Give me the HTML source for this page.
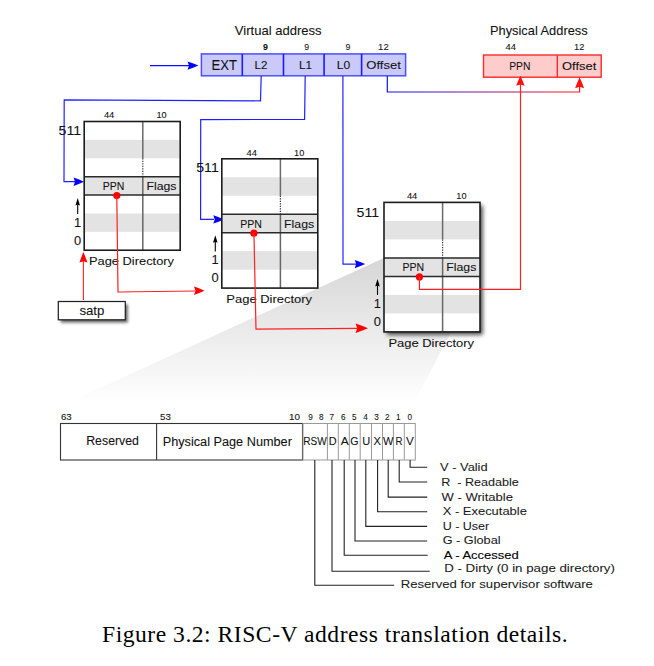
<!DOCTYPE html><html><head><meta charset="utf-8"><style>html,body{margin:0;padding:0;background:#fff;width:654px;height:666px;overflow:hidden}svg{display:block}</style></head><body>
<svg width="654" height="666" viewBox="0 0 654 666">
<defs><filter id="sh" x="-30%" y="-30%" width="160%" height="160%"><feGaussianBlur stdDeviation="2.3"/></filter><filter id="sh2" x="-30%" y="-60%" width="160%" height="220%"><feGaussianBlur stdDeviation="1.8"/></filter><linearGradient id="wedge" x1="0" y1="258" x2="0" y2="403" gradientUnits="userSpaceOnUse"><stop offset="0" stop-color="#d6d6d6"/><stop offset="1" stop-color="#ffffff"/></linearGradient><linearGradient id="ofs" x1="387" y1="0" x2="580" y2="0" gradientUnits="userSpaceOnUse"><stop offset="0" stop-color="#1010ff"/><stop offset="1" stop-color="#ff1a1a"/></linearGradient></defs>
<rect width="654" height="666" fill="#fff"/>
<path d="M384,258 L480,276.5 L414,403 L67,403 Z" fill="url(#wedge)"/>
<text x="234.8" y="34.8" font-size="12.2" text-anchor="start" font-weight="normal" fill="#111" font-family='"Liberation Sans", sans-serif' textLength="86.8" lengthAdjust="spacingAndGlyphs"  stroke="#111" stroke-width="0.08">Virtual address</text>
<text x="490.0" y="35.0" font-size="12.2" text-anchor="start" font-weight="normal" fill="#111" font-family='"Liberation Sans", sans-serif' textLength="97.6" lengthAdjust="spacingAndGlyphs"  stroke="#111" stroke-width="0.08">Physical Address</text>
<rect x="201.4" y="53.9" width="204.2" height="21.9" fill="#c9c9fa" stroke="#4d4dff" stroke-width="1.5"/>
<line x1="242.3" y1="53.9" x2="242.3" y2="75.8" stroke="#1a1aff" stroke-width="1.6"/>
<line x1="283.5" y1="53.9" x2="283.5" y2="75.8" stroke="#1a1aff" stroke-width="1.6"/>
<line x1="324.1" y1="53.9" x2="324.1" y2="75.8" stroke="#1a1aff" stroke-width="1.6"/>
<line x1="361.6" y1="53.9" x2="361.6" y2="75.8" stroke="#1a1aff" stroke-width="1.6"/>
<text x="211.6" y="69.7" font-size="14.2" text-anchor="start" font-weight="normal" fill="#111" font-family='"Liberation Sans", sans-serif' textLength="25.5" lengthAdjust="spacingAndGlyphs"  stroke="#111" stroke-width="0.08">EXT</text>
<text x="254.6" y="69.0" font-size="11.2" text-anchor="start" font-weight="normal" fill="#111" font-family='"Liberation Sans", sans-serif' textLength="12.8" lengthAdjust="spacingAndGlyphs"  stroke="#111" stroke-width="0.08">L2</text>
<text x="299.1" y="69.2" font-size="11.2" text-anchor="start" font-weight="normal" fill="#111" font-family='"Liberation Sans", sans-serif' textLength="13.0" lengthAdjust="spacingAndGlyphs"  stroke="#111" stroke-width="0.08">L1</text>
<text x="336.8" y="69.2" font-size="11.2" text-anchor="start" font-weight="normal" fill="#111" font-family='"Liberation Sans", sans-serif' textLength="13.4" lengthAdjust="spacingAndGlyphs"  stroke="#111" stroke-width="0.08">L0</text>
<text x="366.3" y="69.4" font-size="11.2" text-anchor="start" font-weight="normal" fill="#111" font-family='"Liberation Sans", sans-serif' textLength="34.6" lengthAdjust="spacingAndGlyphs"  stroke="#111" stroke-width="0.08">Offset</text>
<text x="265.5" y="50.3" font-size="8.8" text-anchor="middle" font-weight="bold" fill="#111" font-family='"Liberation Sans", sans-serif'  stroke="#111" stroke-width="0.08">9</text>
<text x="306.8" y="50.0" font-size="8.8" text-anchor="middle" font-weight="normal" fill="#111" font-family='"Liberation Sans", sans-serif'  stroke="#111" stroke-width="0.08">9</text>
<text x="348" y="50.0" font-size="8.8" text-anchor="middle" font-weight="normal" fill="#111" font-family='"Liberation Sans", sans-serif'  stroke="#111" stroke-width="0.08">9</text>
<text x="383.4" y="50.0" font-size="8.8" text-anchor="middle" font-weight="normal" fill="#111" font-family='"Liberation Sans", sans-serif' textLength="10.6" lengthAdjust="spacingAndGlyphs"  stroke="#111" stroke-width="0.08">12</text>
<rect x="483.5" y="55" width="117.7" height="22.2" fill="#ffcccc" stroke="#ff2a2a" stroke-width="1.4"/>
<line x1="557.3" y1="55" x2="557.3" y2="77.2" stroke="#ff2a2a" stroke-width="1.4"/>
<text x="509.2" y="69.9" font-size="11" text-anchor="start" font-weight="normal" fill="#111" font-family='"Liberation Sans", sans-serif' textLength="21.2" lengthAdjust="spacingAndGlyphs"  stroke="#111" stroke-width="0.08">PPN</text>
<text x="562" y="69.9" font-size="11" text-anchor="start" font-weight="normal" fill="#111" font-family='"Liberation Sans", sans-serif' textLength="34.3" lengthAdjust="spacingAndGlyphs"  stroke="#111" stroke-width="0.08">Offset</text>
<text x="510.7" y="50" font-size="8.4" text-anchor="middle" font-weight="normal" fill="#111" font-family='"Liberation Sans", sans-serif' textLength="10.4" lengthAdjust="spacingAndGlyphs"  stroke="#111" stroke-width="0.08">44</text>
<text x="579.2" y="50.3" font-size="8.4" text-anchor="middle" font-weight="normal" fill="#111" font-family='"Liberation Sans", sans-serif' textLength="10.4" lengthAdjust="spacingAndGlyphs"  stroke="#111" stroke-width="0.08">12</text>
<line x1="150" y1="65.6" x2="190" y2="65.6" stroke="#1010ff" stroke-width="1.4"/>
<path d="M198.50,65.60 Q192.45,68.20 187.50,69.80 L189.04,65.60 L187.50,61.40 Q192.45,63.00 198.50,65.60 Z" fill="#0000ff"/>
<polyline points="261.2,76 260.5,100.8 64.2,99.8 64,181.7 76,181.7" fill="none" stroke="#2020ff" stroke-width="1.2"/>
<path d="M84.00,181.70 Q78.22,184.30 73.50,185.90 L74.97,181.70 L73.50,177.50 Q78.22,179.10 84.00,181.70 Z" fill="#0000ff"/>
<polyline points="305.2,76 304.6,119.4 200.7,119.6 200.6,219.4 214,219.4" fill="none" stroke="#2020ff" stroke-width="1.2"/>
<path d="M223.80,219.40 Q218.03,222.00 213.30,223.60 L214.77,219.40 L213.30,215.20 Q218.03,216.80 223.80,219.40 Z" fill="#0000ff"/>
<polyline points="342.9,76 343,264.1 356,264.1" fill="none" stroke="#2020ff" stroke-width="1.2"/>
<path d="M365.20,264.10 Q359.43,266.70 354.70,268.30 L356.17,264.10 L354.70,259.90 Q359.43,261.50 365.20,264.10 Z" fill="#0000ff"/>
<polyline points="387.3,76 387.3,92 579.6,92 579.6,84" fill="none" stroke="url(#ofs)" stroke-width="1.2"/>
<path d="M579.60,77.20 Q582.39,83.25 584.10,88.20 L579.60,86.66 L575.10,88.20 Q576.81,83.25 579.60,77.20 Z" fill="#ff1010"/>
<rect x="84.2" y="121.5" width="96.0" height="128.73000000000002" fill="#fff"/>
<rect x="84.2" y="139.89" width="96.0" height="18.39" fill="#e3e3e3"/>
<rect x="84.2" y="176.67000000000002" width="96.0" height="18.39" fill="#e3e3e3"/>
<rect x="84.2" y="213.45" width="96.0" height="18.39" fill="#e3e3e3"/>
<line x1="142.8" y1="121.5" x2="142.8" y2="158.28" stroke="#6a6a6a" stroke-width="1.5"/>
<line x1="142.8" y1="158.28" x2="142.8" y2="176.67000000000002" stroke="#333" stroke-width="1.2" stroke-dasharray="1.3,1.2"/>
<line x1="142.8" y1="176.67000000000002" x2="142.8" y2="250.23000000000002" stroke="#666" stroke-width="1.5"/>
<line x1="84.2" y1="176.67000000000002" x2="180.2" y2="176.67000000000002" stroke="#2a2a2a" stroke-width="1.5"/>
<line x1="84.2" y1="195.06" x2="180.2" y2="195.06" stroke="#2a2a2a" stroke-width="1.5"/>
<rect x="84.2" y="121.5" width="96.0" height="128.73000000000002" fill="none" stroke="#1c1c1c" stroke-width="1.6"/>
<text x="109.1" y="118.2" font-size="8.6" text-anchor="middle" font-weight="normal" fill="#111" font-family='"Liberation Sans", sans-serif' textLength="10.4" lengthAdjust="spacingAndGlyphs"  stroke="#111" stroke-width="0.08">44</text>
<text x="161.60000000000002" y="118.2" font-size="8.6" text-anchor="middle" font-weight="normal" fill="#111" font-family='"Liberation Sans", sans-serif' textLength="10.2" lengthAdjust="spacingAndGlyphs"  stroke="#111" stroke-width="0.08">10</text>
<text x="81.10000000000001" y="135.0" font-size="12.9" text-anchor="end" font-weight="normal" fill="#111" font-family='"Liberation Sans", sans-serif' textLength="22.6" lengthAdjust="spacingAndGlyphs"  stroke="#111" stroke-width="0.08">511</text>
<text x="113.5" y="189.97000000000003" font-size="11" text-anchor="middle" font-weight="normal" fill="#111" font-family='"Liberation Sans", sans-serif' textLength="21.6" lengthAdjust="spacingAndGlyphs"  stroke="#111" stroke-width="0.08">PPN</text>
<text x="161.5" y="189.97000000000003" font-size="11" text-anchor="middle" font-weight="normal" fill="#111" font-family='"Liberation Sans", sans-serif' textLength="30" lengthAdjust="spacingAndGlyphs"  stroke="#111" stroke-width="0.08">Flags</text>
<text x="77.5" y="226.9" font-size="12.9" text-anchor="middle" font-weight="normal" fill="#111" font-family='"Liberation Sans", sans-serif'  stroke="#111" stroke-width="0.08">1</text>
<text x="77.5" y="245.1" font-size="12.9" text-anchor="middle" font-weight="normal" fill="#111" font-family='"Liberation Sans", sans-serif'  stroke="#111" stroke-width="0.08">0</text>
<line x1="77.7" y1="204.5" x2="77.7" y2="214.1" stroke="#000" stroke-width="1.1"/>
<path d="M75.4,205.5 L77.7,198.0 L80.0,205.5 Q77.7,204.0 75.4,205.5Z" fill="#000"/>
<text x="89.0" y="264.83000000000004" font-size="11.5" text-anchor="start" font-weight="normal" fill="#111" font-family='"Liberation Sans", sans-serif' textLength="85.0" lengthAdjust="spacingAndGlyphs"  stroke="#111" stroke-width="0.08">Page Directory</text>
<circle cx="116.8" cy="195.56" r="3.6" fill="#f00"/>
<rect x="221.8" y="158.8" width="96.0" height="129.29" fill="#fff"/>
<rect x="221.8" y="177.27" width="96.0" height="18.47" fill="#e3e3e3"/>
<rect x="221.8" y="214.21" width="96.0" height="18.47" fill="#e3e3e3"/>
<rect x="221.8" y="251.15" width="96.0" height="18.47" fill="#e3e3e3"/>
<line x1="280.40000000000003" y1="158.8" x2="280.40000000000003" y2="195.74" stroke="#6a6a6a" stroke-width="1.5"/>
<line x1="280.40000000000003" y1="195.74" x2="280.40000000000003" y2="214.21" stroke="#333" stroke-width="1.2" stroke-dasharray="1.3,1.2"/>
<line x1="280.40000000000003" y1="214.21" x2="280.40000000000003" y2="288.09000000000003" stroke="#666" stroke-width="1.5"/>
<line x1="221.8" y1="214.21" x2="317.8" y2="214.21" stroke="#2a2a2a" stroke-width="1.5"/>
<line x1="221.8" y1="232.68" x2="317.8" y2="232.68" stroke="#2a2a2a" stroke-width="1.5"/>
<rect x="221.8" y="158.8" width="96.0" height="129.29" fill="none" stroke="#1c1c1c" stroke-width="1.6"/>
<text x="251.70000000000002" y="155.5" font-size="8.6" text-anchor="middle" font-weight="normal" fill="#111" font-family='"Liberation Sans", sans-serif' textLength="10.4" lengthAdjust="spacingAndGlyphs"  stroke="#111" stroke-width="0.08">44</text>
<text x="299.20000000000005" y="155.5" font-size="8.6" text-anchor="middle" font-weight="normal" fill="#111" font-family='"Liberation Sans", sans-serif' textLength="10.2" lengthAdjust="spacingAndGlyphs"  stroke="#111" stroke-width="0.08">10</text>
<text x="218.8" y="171.8" font-size="12.9" text-anchor="end" font-weight="normal" fill="#111" font-family='"Liberation Sans", sans-serif' textLength="22.6" lengthAdjust="spacingAndGlyphs"  stroke="#111" stroke-width="0.08">511</text>
<text x="251.10000000000002" y="227.51000000000002" font-size="11" text-anchor="middle" font-weight="normal" fill="#111" font-family='"Liberation Sans", sans-serif' textLength="21.6" lengthAdjust="spacingAndGlyphs"  stroke="#111" stroke-width="0.08">PPN</text>
<text x="299.1" y="227.51000000000002" font-size="11" text-anchor="middle" font-weight="normal" fill="#111" font-family='"Liberation Sans", sans-serif' textLength="30" lengthAdjust="spacingAndGlyphs"  stroke="#111" stroke-width="0.08">Flags</text>
<text x="215.10000000000002" y="264.20000000000005" font-size="12.9" text-anchor="middle" font-weight="normal" fill="#111" font-family='"Liberation Sans", sans-serif'  stroke="#111" stroke-width="0.08">1</text>
<text x="215.10000000000002" y="282.4" font-size="12.9" text-anchor="middle" font-weight="normal" fill="#111" font-family='"Liberation Sans", sans-serif'  stroke="#111" stroke-width="0.08">0</text>
<line x1="215.3" y1="241.8" x2="215.3" y2="251.4" stroke="#000" stroke-width="1.1"/>
<path d="M213.0,242.8 L215.3,235.3 L217.60000000000002,242.8 Q215.3,241.3 213.0,242.8Z" fill="#000"/>
<text x="226.29999999999998" y="302.69000000000005" font-size="11.5" text-anchor="start" font-weight="normal" fill="#111" font-family='"Liberation Sans", sans-serif' textLength="85.8" lengthAdjust="spacingAndGlyphs"  stroke="#111" stroke-width="0.08">Page Directory</text>
<circle cx="253.9" cy="233.18" r="3.6" fill="#f00"/>
<rect x="384" y="202.4" width="96.0" height="129.5" fill="#000" opacity="0.7" filter="url(#sh)" transform="translate(2.8,3.0)"/>
<rect x="384" y="202.4" width="96.0" height="129.5" fill="#fff"/>
<rect x="384" y="220.9" width="96.0" height="18.5" fill="#e3e3e3"/>
<rect x="384" y="257.9" width="96.0" height="18.5" fill="#e3e3e3"/>
<rect x="384" y="294.9" width="96.0" height="18.5" fill="#e3e3e3"/>
<line x1="442.6" y1="202.4" x2="442.6" y2="239.4" stroke="#6a6a6a" stroke-width="1.5"/>
<line x1="442.6" y1="239.4" x2="442.6" y2="257.9" stroke="#333" stroke-width="1.2" stroke-dasharray="1.3,1.2"/>
<line x1="442.6" y1="257.9" x2="442.6" y2="331.9" stroke="#666" stroke-width="1.5"/>
<line x1="384" y1="257.9" x2="480.0" y2="257.9" stroke="#2a2a2a" stroke-width="1.5"/>
<line x1="384" y1="276.4" x2="480.0" y2="276.4" stroke="#2a2a2a" stroke-width="1.5"/>
<rect x="384" y="202.4" width="96.0" height="129.5" fill="none" stroke="#1c1c1c" stroke-width="1.6"/>
<text x="412.1" y="199.1" font-size="8.6" text-anchor="middle" font-weight="normal" fill="#111" font-family='"Liberation Sans", sans-serif' textLength="10.4" lengthAdjust="spacingAndGlyphs"  stroke="#111" stroke-width="0.08">44</text>
<text x="461.4" y="199.1" font-size="8.6" text-anchor="middle" font-weight="normal" fill="#111" font-family='"Liberation Sans", sans-serif' textLength="10.2" lengthAdjust="spacingAndGlyphs"  stroke="#111" stroke-width="0.08">10</text>
<text x="379.2" y="216.8" font-size="12.9" text-anchor="end" font-weight="normal" fill="#111" font-family='"Liberation Sans", sans-serif' textLength="22.6" lengthAdjust="spacingAndGlyphs"  stroke="#111" stroke-width="0.08">511</text>
<text x="413.3" y="271.2" font-size="11" text-anchor="middle" font-weight="normal" fill="#111" font-family='"Liberation Sans", sans-serif' textLength="21.6" lengthAdjust="spacingAndGlyphs"  stroke="#111" stroke-width="0.08">PPN</text>
<text x="461.3" y="271.2" font-size="11" text-anchor="middle" font-weight="normal" fill="#111" font-family='"Liberation Sans", sans-serif' textLength="30" lengthAdjust="spacingAndGlyphs"  stroke="#111" stroke-width="0.08">Flags</text>
<text x="377.3" y="307.8" font-size="12.9" text-anchor="middle" font-weight="normal" fill="#111" font-family='"Liberation Sans", sans-serif'  stroke="#111" stroke-width="0.08">1</text>
<text x="377.3" y="326.0" font-size="12.9" text-anchor="middle" font-weight="normal" fill="#111" font-family='"Liberation Sans", sans-serif'  stroke="#111" stroke-width="0.08">0</text>
<line x1="377.5" y1="285.4" x2="377.5" y2="295.0" stroke="#000" stroke-width="1.1"/>
<path d="M375.2,286.4 L377.5,278.9 L379.8,286.4 Q377.5,284.9 375.2,286.4Z" fill="#000"/>
<text x="388.40000000000003" y="346.5" font-size="11.5" text-anchor="start" font-weight="normal" fill="#111" font-family='"Liberation Sans", sans-serif' textLength="85.7" lengthAdjust="spacingAndGlyphs"  stroke="#111" stroke-width="0.08">Page Directory</text>
<circle cx="419.4" cy="276.9" r="3.6" fill="#f00"/>
<polyline points="116.8,196 118,292 195,291" fill="none" stroke="#ff2020" stroke-width="1.2"/>
<path d="M204.50,290.80 Q198.72,293.40 194.00,295.00 L195.47,290.80 L194.00,286.60 Q198.72,288.20 204.50,290.80 Z" fill="#ff0000"/>
<polyline points="253.9,232 256,329.2 357,328.4" fill="none" stroke="#ff2020" stroke-width="1.2"/>
<path d="M368.00,328.30 Q361.12,331.21 355.50,333.00 L357.25,328.30 L355.50,323.60 Q361.12,325.39 368.00,328.30 Z" fill="#ff0000"/>
<polyline points="419.4,277 419.4,289.3 520.5,289.3 520.5,84" fill="none" stroke="#ff2020" stroke-width="1.2"/>
<path d="M520.40,75.80 Q523.00,81.30 524.60,85.80 L520.40,84.40 L516.20,85.80 Q517.80,81.30 520.40,75.80 Z" fill="#ff1010"/>
<rect x="58.3" y="301.5" width="67" height="18.3" fill="#000" opacity="0.6" filter="url(#sh2)" transform="translate(2.5,2.8)"/>
<rect x="58.3" y="301.5" width="67" height="18.3" fill="#fff" stroke="#222" stroke-width="1.25"/>
<text x="79.4" y="315.0" font-size="12.2" text-anchor="start" font-weight="normal" fill="#111" font-family='"Liberation Sans", sans-serif' textLength="25" lengthAdjust="spacingAndGlyphs"  stroke="#111" stroke-width="0.08">satp</text>
<line x1="83.4" y1="300" x2="83.4" y2="261" stroke="#ff3030" stroke-width="1.2"/>
<path d="M83.40,252.10 Q85.88,257.88 87.40,262.60 L83.40,261.13 L79.40,262.60 Q80.92,257.88 83.40,252.10 Z" fill="#ff0000"/>
<rect x="60.5" y="423.5" width="242" height="36.5" fill="#fff" stroke="#333" stroke-width="1.1"/>
<line x1="156.6" y1="423.5" x2="156.6" y2="460" stroke="#333" stroke-width="1.1"/>
<text x="60.9" y="419.8" font-size="8.4" text-anchor="start" font-weight="normal" fill="#111" font-family='"Liberation Sans", sans-serif' textLength="10.8" lengthAdjust="spacingAndGlyphs"  stroke="#111" stroke-width="0.08">63</text>
<text x="160.0" y="419.8" font-size="8.4" text-anchor="start" font-weight="normal" fill="#111" font-family='"Liberation Sans", sans-serif' textLength="10.8" lengthAdjust="spacingAndGlyphs"  stroke="#111" stroke-width="0.08">53</text>
<text x="289.0" y="419.8" font-size="8.4" text-anchor="start" font-weight="normal" fill="#111" font-family='"Liberation Sans", sans-serif' textLength="11.0" lengthAdjust="spacingAndGlyphs"  stroke="#111" stroke-width="0.08">10</text>
<text x="86.2" y="445.3" font-size="12" text-anchor="start" font-weight="normal" fill="#111" font-family='"Liberation Sans", sans-serif' textLength="52.8" lengthAdjust="spacingAndGlyphs"  stroke="#111" stroke-width="0.08">Reserved</text>
<text x="162.7" y="446" font-size="12" text-anchor="start" font-weight="normal" fill="#111" font-family='"Liberation Sans", sans-serif' textLength="129.2" lengthAdjust="spacingAndGlyphs"  stroke="#111" stroke-width="0.08">Physical Page Number</text>
<rect x="303" y="423.5" width="112.30000000000001" height="36.5" fill="#fff" stroke="#999" stroke-width="1"/>
<line x1="327.4" y1="423.5" x2="327.4" y2="460" stroke="#999" stroke-width="1"/>
<line x1="338.3" y1="423.5" x2="338.3" y2="460" stroke="#999" stroke-width="1"/>
<line x1="349.3" y1="423.5" x2="349.3" y2="460" stroke="#999" stroke-width="1"/>
<line x1="360.2" y1="423.5" x2="360.2" y2="460" stroke="#999" stroke-width="1"/>
<line x1="371.5" y1="423.5" x2="371.5" y2="460" stroke="#999" stroke-width="1"/>
<line x1="382.5" y1="423.5" x2="382.5" y2="460" stroke="#999" stroke-width="1"/>
<line x1="393.4" y1="423.5" x2="393.4" y2="460" stroke="#999" stroke-width="1"/>
<line x1="404.3" y1="423.5" x2="404.3" y2="460" stroke="#999" stroke-width="1"/>
<text x="310.5" y="419.7" font-size="8.2" text-anchor="middle" font-weight="normal" fill="#111" font-family='"Liberation Sans", sans-serif'  stroke="#111" stroke-width="0.08">9</text>
<text x="321.2" y="419.7" font-size="8.2" text-anchor="middle" font-weight="normal" fill="#111" font-family='"Liberation Sans", sans-serif'  stroke="#111" stroke-width="0.08">8</text>
<text x="331.8" y="419.7" font-size="8.2" text-anchor="middle" font-weight="normal" fill="#111" font-family='"Liberation Sans", sans-serif'  stroke="#111" stroke-width="0.08">7</text>
<text x="343.3" y="419.7" font-size="8.2" text-anchor="middle" font-weight="normal" fill="#111" font-family='"Liberation Sans", sans-serif'  stroke="#111" stroke-width="0.08">6</text>
<text x="354.2" y="419.7" font-size="8.2" text-anchor="middle" font-weight="normal" fill="#111" font-family='"Liberation Sans", sans-serif'  stroke="#111" stroke-width="0.08">5</text>
<text x="365.6" y="419.7" font-size="8.2" text-anchor="middle" font-weight="normal" fill="#111" font-family='"Liberation Sans", sans-serif'  stroke="#111" stroke-width="0.08">4</text>
<text x="376.5" y="419.7" font-size="8.2" text-anchor="middle" font-weight="normal" fill="#111" font-family='"Liberation Sans", sans-serif'  stroke="#111" stroke-width="0.08">3</text>
<text x="387.4" y="419.7" font-size="8.2" text-anchor="middle" font-weight="normal" fill="#111" font-family='"Liberation Sans", sans-serif'  stroke="#111" stroke-width="0.08">2</text>
<text x="398.4" y="419.7" font-size="8.2" text-anchor="middle" font-weight="normal" fill="#111" font-family='"Liberation Sans", sans-serif'  stroke="#111" stroke-width="0.08">1</text>
<text x="409.7" y="419.7" font-size="8.2" text-anchor="middle" font-weight="normal" fill="#111" font-family='"Liberation Sans", sans-serif'  stroke="#111" stroke-width="0.08">0</text>
<text x="303.3" y="445.4" font-size="11.2" text-anchor="start" font-weight="normal" fill="#111" font-family='"Liberation Sans", sans-serif' textLength="23.5" lengthAdjust="spacingAndGlyphs"  stroke="#111" stroke-width="0.08">RSW</text>
<text x="328.8" y="445.4" font-size="11.2" text-anchor="start" font-weight="normal" fill="#111" font-family='"Liberation Sans", sans-serif' textLength="7.9" lengthAdjust="spacingAndGlyphs"  stroke="#111" stroke-width="0.08">D</text>
<text x="340.7" y="445.4" font-size="11.2" text-anchor="start" font-weight="normal" fill="#111" font-family='"Liberation Sans", sans-serif' textLength="8" lengthAdjust="spacingAndGlyphs"  stroke="#111" stroke-width="0.08">A</text>
<text x="350.3" y="445.4" font-size="11.2" text-anchor="start" font-weight="normal" fill="#111" font-family='"Liberation Sans", sans-serif' textLength="8.3" lengthAdjust="spacingAndGlyphs"  stroke="#111" stroke-width="0.08">G</text>
<text x="362.2" y="445.4" font-size="11.2" text-anchor="start" font-weight="normal" fill="#111" font-family='"Liberation Sans", sans-serif' textLength="8" lengthAdjust="spacingAndGlyphs"  stroke="#111" stroke-width="0.08">U</text>
<text x="373.5" y="445.4" font-size="11.2" text-anchor="start" font-weight="normal" fill="#111" font-family='"Liberation Sans", sans-serif' textLength="7.4" lengthAdjust="spacingAndGlyphs"  stroke="#111" stroke-width="0.08">X</text>
<text x="382.9" y="445.4" font-size="11.2" text-anchor="start" font-weight="normal" fill="#111" font-family='"Liberation Sans", sans-serif' textLength="10.5" lengthAdjust="spacingAndGlyphs"  stroke="#111" stroke-width="0.08">W</text>
<text x="395.4" y="445.4" font-size="11.2" text-anchor="start" font-weight="normal" fill="#111" font-family='"Liberation Sans", sans-serif' textLength="7" lengthAdjust="spacingAndGlyphs"  stroke="#111" stroke-width="0.08">R</text>
<text x="405.9" y="445.4" font-size="11.2" text-anchor="start" font-weight="normal" fill="#111" font-family='"Liberation Sans", sans-serif' textLength="7.8" lengthAdjust="spacingAndGlyphs"  stroke="#111" stroke-width="0.08">V</text>
<polyline points="410.1,460 410.1,467.3 427.2,467.3" fill="none" stroke="#222" stroke-width="1.1"/>
<polyline points="399.2,460 399.2,482.0 427.2,482.0" fill="none" stroke="#222" stroke-width="1.1"/>
<polyline points="388.2,460 388.2,497.1 427.2,497.1" fill="none" stroke="#222" stroke-width="1.1"/>
<polyline points="377.6,460 377.6,511.8 427.2,511.8" fill="none" stroke="#222" stroke-width="1.1"/>
<polyline points="365.8,460 365.8,526.4 427.2,526.4" fill="none" stroke="#222" stroke-width="1.1"/>
<polyline points="355.0,460 355.0,541.0 427.2,541.0" fill="none" stroke="#222" stroke-width="1.1"/>
<polyline points="344.2,460 344.2,555.3 427.7,555.3" fill="none" stroke="#222" stroke-width="1.1"/>
<polyline points="332.0,460 332.0,571.2 429.7,571.2" fill="none" stroke="#222" stroke-width="1.1"/>
<polyline points="314.8,460 314.8,585.2 394.2,585.2" fill="none" stroke="#222" stroke-width="1.1"/>
<text x="440.09999999999997" y="470.7" font-size="11.6" text-anchor="start" font-weight="normal" fill="#1a1a1a" font-family='"Liberation Sans", sans-serif' textLength="47.5" lengthAdjust="spacingAndGlyphs"  stroke="#1a1a1a" stroke-width="0.08">V - Valid</text>
<text x="441.2" y="486.0" font-size="11.6" text-anchor="start" font-weight="normal" fill="#1a1a1a" font-family='"Liberation Sans", sans-serif' textLength="77.5" lengthAdjust="spacingAndGlyphs"  stroke="#1a1a1a" stroke-width="0.08">R&#160; - Readable</text>
<text x="441.59999999999997" y="500.6" font-size="11.6" text-anchor="start" font-weight="normal" fill="#1a1a1a" font-family='"Liberation Sans", sans-serif' textLength="71.3" lengthAdjust="spacingAndGlyphs"  stroke="#1a1a1a" stroke-width="0.08">W - Writable</text>
<text x="442.7" y="515.4" font-size="11.6" text-anchor="start" font-weight="normal" fill="#1a1a1a" font-family='"Liberation Sans", sans-serif' textLength="84.2" lengthAdjust="spacingAndGlyphs"  stroke="#1a1a1a" stroke-width="0.08">X - Executable</text>
<text x="442.7" y="530.0" font-size="11.6" text-anchor="start" font-weight="normal" fill="#1a1a1a" font-family='"Liberation Sans", sans-serif' textLength="46.5" lengthAdjust="spacingAndGlyphs"  stroke="#1a1a1a" stroke-width="0.08">U - User</text>
<text x="442.7" y="544.0" font-size="11.6" text-anchor="start" font-weight="normal" fill="#1a1a1a" font-family='"Liberation Sans", sans-serif' textLength="57.9" lengthAdjust="spacingAndGlyphs"  stroke="#1a1a1a" stroke-width="0.08">G - Global</text>
<text x="443.7" y="558.6" font-size="11.6" text-anchor="start" font-weight="normal" fill="#000" font-family='"Liberation Sans", sans-serif' textLength="75.0" lengthAdjust="spacingAndGlyphs" stroke="#000" stroke-width="0.12">A - Accessed</text>
<text x="444.2" y="572.0" font-size="11.6" text-anchor="start" font-weight="normal" fill="#1a1a1a" font-family='"Liberation Sans", sans-serif' textLength="170.7" lengthAdjust="spacingAndGlyphs"  stroke="#1a1a1a" stroke-width="0.08">D - Dirty (0 in page directory)</text>
<text x="400.7" y="588.4" font-size="11.6" text-anchor="start" font-weight="normal" fill="#1a1a1a" font-family='"Liberation Sans", sans-serif' textLength="192.2" lengthAdjust="spacingAndGlyphs"  stroke="#1a1a1a" stroke-width="0.08">Reserved for supervisor software</text>
<text x="102.0" y="641.8" font-size="23.6" text-anchor="start" font-weight="normal" fill="#000" font-family='"Liberation Serif", serif' textLength="465.6" lengthAdjust="spacing" >Figure 3.2: RISC-V address translation details.</text>
</svg></body></html>
